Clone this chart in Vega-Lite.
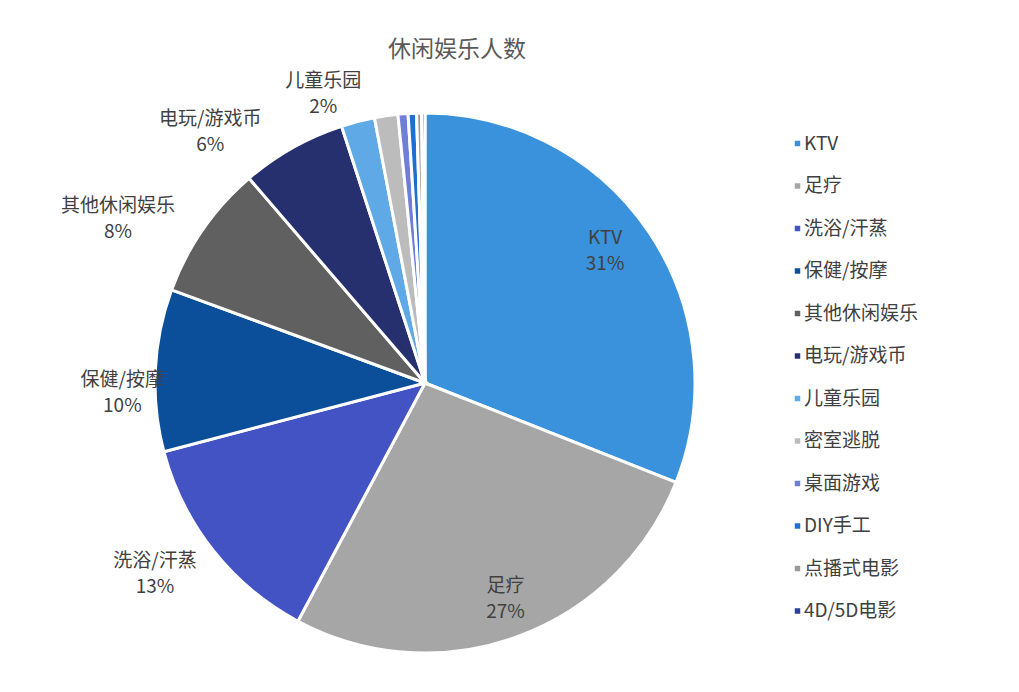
{
  "$schema": "https://vega.github.io/schema/vega-lite/v6.json",
  "autosize": {"type": "none"},
  "padding": {"left": 0, "top": 60, "right": 169, "bottom": 0},
  "width": 850,
  "height": 646,
  "background": "white",
  "title": {"text": "休闲娱乐人数", "fontSize": 23, "font": "Noto Sans CJK SC", "fontWeight": "normal", "color": "#595959", "dx": 32, "offset": -29},
  "config": {"view": {"stroke": null}, "font": "Noto Sans CJK SC"},
  "data": {"values": [
    {"idx": 1, "category": "KTV", "value": 31.0},
    {"idx": 2, "category": "足疗", "value": 26.8},
    {"idx": 3, "category": "洗浴/汗蒸", "value": 13.1},
    {"idx": 4, "category": "保健/按摩", "value": 9.7},
    {"idx": 5, "category": "其他休闲娱乐", "value": 8.1},
    {"idx": 6, "category": "电玩/游戏币", "value": 6.3},
    {"idx": 7, "category": "儿童乐园", "value": 2.0},
    {"idx": 8, "category": "密室逃脱", "value": 1.4},
    {"idx": 9, "category": "桌面游戏", "value": 0.6},
    {"idx": 10, "category": "DIY手工", "value": 0.5},
    {"idx": 11, "category": "点播式电影", "value": 0.3},
    {"idx": 12, "category": "4D/5D电影", "value": 0.2}
  ]},
  "transform": [
    {"calculate": "datum.category + '\\n' + format(datum.value, '.0f') + '%'", "as": "label"}
  ],
  "encoding": {
    "theta": {"field": "value", "type": "quantitative", "stack": true},
    "order": {"field": "idx", "type": "quantitative"}
  },
  "layer": [
    {
      "mark": {"type": "arc", "outerRadius": 270, "stroke": "white", "strokeWidth": 3},
      "encoding": {
        "color": {
          "field": "category", "type": "nominal", "sort": null,
          "scale": {
            "domain": ["KTV", "足疗", "洗浴/汗蒸", "保健/按摩", "其他休闲娱乐", "电玩/游戏币", "儿童乐园", "密室逃脱", "桌面游戏", "DIY手工", "点播式电影", "4D/5D电影"],
            "range": ["#3b92dc", "#a6a6a6", "#4353c4", "#0b4f9a", "#606060", "#26306e", "#5ea9e6", "#bcbcbc", "#6f7fd8", "#1f6fd0", "#9a9a9a", "#2c3f9e"]
          },
          "legend": {
            "title": null, "orient": "none", "legendX": 788, "legendY": 74,
            "symbolType": "square", "symbolSize": 30, "symbolStrokeWidth": 0,
            "labelFontSize": 19, "labelColor": "#404040", "labelFont": "Noto Sans CJK SC",
            "rowPadding": 22.5, "labelOffset": -3, "labelLimit": 200
          }
        }
      }
    },
    {
      "mark": {"type": "text", "radius": 225, "fontSize": 19, "color": "#404040", "lineHeight": 26, "lineBreak": "\n", "align": "center", "baseline": "middle", "dx": -6, "dy": -19},
      "encoding": {"text": {"condition": {"test": "datum.idx == 1", "field": "label"}, "value": ""}}
    },
    {
      "mark": {"type": "text", "radius": 225, "fontSize": 19, "color": "#404040", "lineHeight": 26, "lineBreak": "\n", "align": "center", "baseline": "middle", "dx": 3, "dy": -8},
      "encoding": {"text": {"condition": {"test": "datum.idx == 2", "field": "label"}, "value": ""}}
    },
    {
      "mark": {"type": "text", "radius": 320, "fontSize": 19, "color": "#404040", "lineHeight": 26, "lineBreak": "\n", "align": "center", "baseline": "middle", "dx": -19, "dy": -21},
      "encoding": {"text": {"condition": {"test": "datum.idx == 3", "field": "label"}, "value": ""}}
    },
    {
      "mark": {"type": "text", "radius": 305, "fontSize": 19, "color": "#404040", "lineHeight": 26, "lineBreak": "\n", "align": "center", "baseline": "middle", "dx": 2, "dy": 11},
      "encoding": {"text": {"condition": {"test": "datum.idx == 4", "field": "label"}, "value": ""}}
    },
    {
      "mark": {"type": "text", "radius": 320, "fontSize": 19, "color": "#404040", "lineHeight": 26, "lineBreak": "\n", "align": "center", "baseline": "middle", "dx": -44, "dy": 5},
      "encoding": {"text": {"condition": {"test": "datum.idx == 5", "field": "label"}, "value": ""}}
    },
    {
      "mark": {"type": "text", "radius": 320, "fontSize": 19, "color": "#404040", "lineHeight": 26, "lineBreak": "\n", "align": "center", "baseline": "middle", "dx": -58, "dy": 15},
      "encoding": {"text": {"condition": {"test": "datum.idx == 6", "field": "label"}, "value": ""}}
    },
    {
      "mark": {"type": "text", "radius": 305, "fontSize": 19, "color": "#404040", "lineHeight": 26, "lineBreak": "\n", "align": "center", "baseline": "middle", "dx": -26, "dy": -7},
      "encoding": {"text": {"condition": {"test": "datum.idx == 7", "field": "label"}, "value": ""}}
    }
  ]
}
